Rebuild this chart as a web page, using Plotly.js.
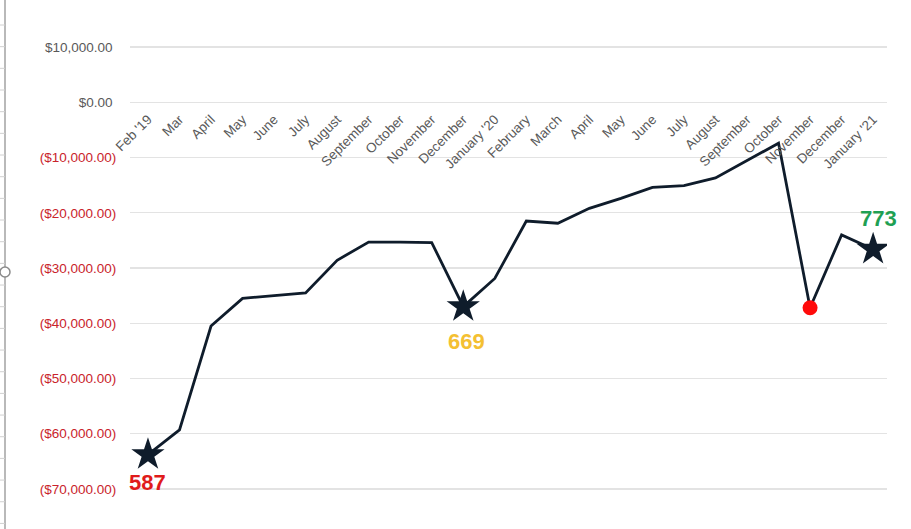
<!DOCTYPE html>
<html>
<head>
<meta charset="utf-8">
<script src="https://cdn.plot.ly/plotly-3.0.1.min.js"></script>
<style>html,body{margin:0;padding:0;background:#fff;}#chart{width:911px;height:529px;}</style>
</head>
<body>
<div id="chart"></div>
<script>
// ---- data ----
const months = ["Feb '19","Mar","April","May","June","July","August","September","October","November","December","January '20",
  "February","March","April","May","June","July","August","September","October","November","December","January '21"];
const balance = [-63800,-59300,-40500,-35500,-35000,-34500,-28600,-25300,-25300,-25400,-37000,-31900,
  -21500,-21900,-19200,-17400,-15400,-15100,-13700,-10500,-7400,-37200,-24000,-26600];
const starIdx = [0, 10, 23];
const starLabels = ["587", "669", "773"];
const dotIdx = [21];
const yTickVals = [10000,0,-10000,-20000,-30000,-40000,-50000,-60000,-70000];

// ---- helpers ----
function fmtMoney(v){
  const s = Math.abs(v).toLocaleString('en-US',{minimumFractionDigits:2,maximumFractionDigits:2});
  return v < 0 ? '<span style="color:#c9232b">($' + s + ')</span>' : '$' + s + '\u00a0';
}
const xIdx = months.map((_, i) => i);

// layout geometry (pixels)
const W = 911, H = 529, mL = 130, mR = 24, mT = 25, mB = 18;
const yMin = -74000, yMax = 14000;
const pw = W - mL - mR, ph = H - mT - mB;
const px2x = p => (p - mL) / pw;
const py2y = p => (H - mB - p) / ph;

const traces = [
  {x: xIdx, y: balance, type: 'scatter', mode: 'lines',
   line: {color: '#0f1c2b', width: 2.8}, hoverinfo: 'skip'},
  {x: starIdx.map(i => xIdx[i]), y: starIdx.map(i => balance[i]), type: 'scatter', mode: 'markers',
   marker: {symbol: 'star', size: 25, color: '#0f1c2b', line: {width: 0}}, hoverinfo: 'skip'},
  {x: dotIdx.map(i => xIdx[i]), y: dotIdx.map(i => balance[i]), type: 'scatter', mode: 'markers',
   marker: {symbol: 'circle', size: 15, color: '#ff0a0a', line: {width: 0}}, hoverinfo: 'skip'}
];

const labelColors = ['#e01b1b', '#f4c032', '#1fa053'];
const labelShift = [[0, -28], [3, -35], [5, 31]];
const annotations = starIdx.map((i, k) => ({
  x: xIdx[i], y: balance[i], xref: 'x', yref: 'y', text: '<b>' + starLabels[k] + '</b>',
  showarrow: false, xshift: labelShift[k][0], yshift: labelShift[k][1],
  font: {family: 'Liberation Sans, Arial, sans-serif', size: 22, color: labelColors[k]}
}));

// spreadsheet UI decoration on the left
const shapes = [
  {type: 'line', xref: 'paper', yref: 'paper', x0: px2x(5), x1: px2x(5), y0: py2y(0), y1: py2y(529),
   line: {color: '#8a8a8a', width: 1.2}}
];
for (let r = 25; r < 529; r += 21.67) {
  shapes.push({type: 'line', xref: 'paper', yref: 'paper', x0: px2x(0), x1: px2x(5), y0: py2y(r), y1: py2y(r),
    line: {color: '#d0d0d0', width: 1}});
}
shapes.push({type: 'circle', xref: 'paper', yref: 'paper', x0: px2x(0), x1: px2x(10), y0: py2y(267), y1: py2y(277),
  line: {color: '#8a8a8a', width: 1.5}, fillcolor: '#ffffff'});

const layout = {
  width: W, height: H,
  margin: {l: mL, r: mR, t: mT, b: mB, pad: 0},
  paper_bgcolor: '#ffffff', plot_bgcolor: '#ffffff',
  showlegend: false,
  font: {family: 'Liberation Sans, Arial, sans-serif', color: '#595959', size: 13},
  xaxis: {
    range: [-0.57, 23.44], tickmode: 'array', tickvals: xIdx, ticktext: months,
    tickangle: -45, showgrid: false, zeroline: false, showline: false,
    ticks: 'outside', ticklen: 3, tickcolor: 'rgba(0,0,0,0)',
    anchor: 'free', position: (0 - yMin) / (yMax - yMin), automargin: false,
    tickfont: {size: 13.5, color: '#595959'}, fixedrange: true
  },
  yaxis: {
    range: [yMin, yMax], tickmode: 'array', tickvals: yTickVals, ticktext: yTickVals.map(fmtMoney),
    showgrid: true, gridcolor: '#e3e3e3', gridwidth: 1.4, zeroline: false, showline: false,
    ticks: 'outside', ticklen: 10, tickcolor: 'rgba(0,0,0,0)', automargin: false,
    tickfont: {size: 13.5, color: '#595959'}, fixedrange: true
  },
  annotations: annotations,
  shapes: shapes
};

Plotly.newPlot('chart', traces, layout, {displayModeBar: false, staticPlot: true});
</script>
</body>
</html>
